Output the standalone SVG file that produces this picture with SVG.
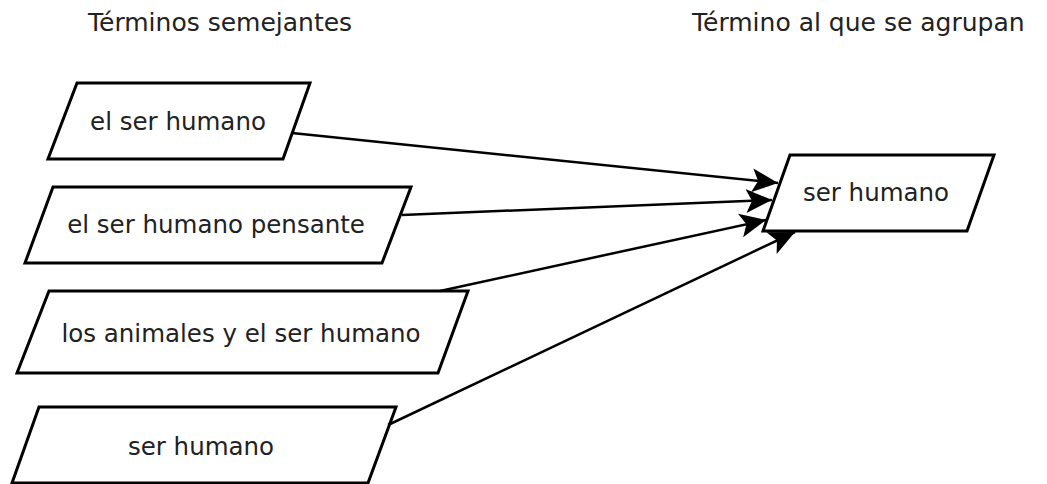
<svg xmlns="http://www.w3.org/2000/svg" width="1047" height="484" viewBox="0 0 1047 484">
<defs>
<style>
.n{fill:#fff;stroke:#000;stroke-width:3;stroke-linejoin:miter}
.t{font-family:"DejaVu Sans",sans-serif;font-size:24.5px;fill:#222;text-anchor:middle}
.h{font-family:"DejaVu Sans",sans-serif;font-size:25px;fill:#222}
.c{fill:none;stroke:#000;stroke-width:2.5}
</style>
<marker id="a" markerUnits="userSpaceOnUse" markerWidth="28" markerHeight="26" refX="26" refY="13" orient="auto"><path d="M0,1 L26,13 L0,25 L6,13 Z" fill="#000"/></marker>
</defs>
<rect width="1047" height="484" fill="#fff"/>
<text class="h" x="88" y="31">Términos semejantes</text>
<text class="h" x="692" y="31">Término al que se agrupan</text>
<g id="n1"><polygon class="n" points="77,83 310,83 283,159 48,159"/><text class="t" x="178" y="130">el ser humano</text></g>
<g id="n2"><polygon class="n" points="53,187 411,187 382,263 25,263"/><text class="t" x="216" y="233">el ser humano pensante</text></g>
<g id="n3"><polygon class="n" points="49,291 468,291 438,373 17,373"/><text class="t" x="241" y="342">los animales y el ser humano</text></g>
<g id="n4"><polygon class="n" points="39,407 396,407 368,483 12,483"/><text class="t" x="201" y="455">ser humano</text></g>
<g id="t"><polygon class="n" points="790,155 994,155 967,231 763,231"/><text class="t" x="876" y="201">ser humano</text></g>
<g id="connectors">
<line class="c" x1="292" y1="133" x2="778" y2="183" marker-end="url(#a)"/>
<line class="c" x1="402" y1="215" x2="772" y2="200" marker-end="url(#a)"/>
<line class="c" x1="440" y1="291" x2="766" y2="220" marker-end="url(#a)"/>
<line class="c" x1="388" y1="425" x2="795" y2="232" marker-end="url(#a)"/>
</g>
</svg>
